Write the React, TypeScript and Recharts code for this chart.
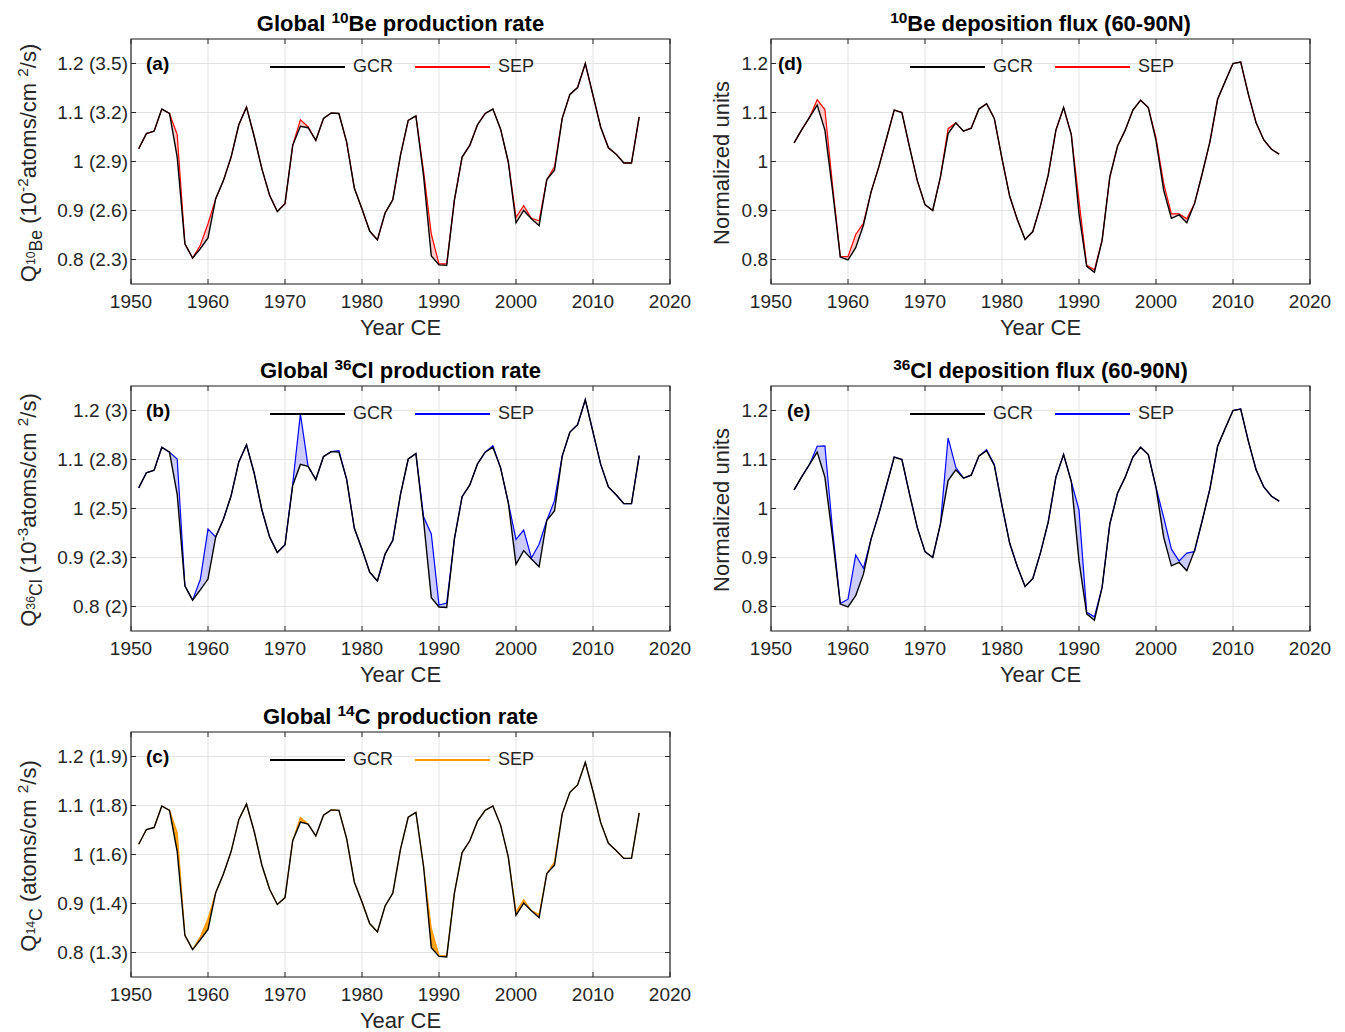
import React from "react";
import {
  ComposedChart,
  Line,
  Area,
  XAxis,
  YAxis,
  CartesianGrid,
  ReferenceArea,
} from "recharts";

const FONT = '"Liberation Sans", Arial, Helvetica, sans-serif';
const AXIS = "#262626";

// years
const productionYears = [
  1951, 1952, 1953, 1954, 1955, 1956, 1957, 1958, 1959, 1960, 1961, 1962, 1963,
  1964, 1965, 1966, 1967, 1968, 1969, 1970, 1971, 1972, 1973, 1974, 1975, 1976,
  1977, 1978, 1979, 1980, 1981, 1982, 1983, 1984, 1985, 1986, 1987, 1988, 1989,
  1990, 1991, 1992, 1993, 1994, 1995, 1996, 1997, 1998, 1999, 2000, 2001, 2002,
  2003, 2004, 2005, 2006, 2007, 2008, 2009, 2010, 2011, 2012, 2013, 2014, 2015,
  2016,
];
const depositionYears = [
  1953, 1954, 1955, 1956, 1957, 1958, 1959, 1960, 1961, 1962, 1963, 1964, 1965,
  1966, 1967, 1968, 1969, 1970, 1971, 1972, 1973, 1974, 1975, 1976, 1977, 1978,
  1979, 1980, 1981, 1982, 1983, 1984, 1985, 1986, 1987, 1988, 1989, 1990, 1991,
  1992, 1993, 1994, 1995, 1996, 1997, 1998, 1999, 2000, 2001, 2002, 2003, 2004,
  2005, 2006, 2007, 2008, 2009, 2010, 2011, 2012, 2013, 2014, 2015, 2016,
];

const yearTicks = [1950, 1960, 1970, 1980, 1990, 2000, 2010, 2020];
const valueTicks = [0.8, 0.9, 1, 1.1, 1.2];
const be10TickLabels = ["0.8 (2.3)", "0.9 (2.6)", "1 (2.9)", "1.1 (3.2)", "1.2 (3.5)"];
const cl36TickLabels = ["0.8 (2)", "0.9 (2.3)", "1 (2.5)", "1.1 (2.8)", "1.2 (3)"];
const c14TickLabels = ["0.8 (1.3)", "0.9 (1.4)", "1 (1.6)", "1.1 (1.8)", "1.2 (1.9)"];
const normTickLabels = ["0.8", "0.9", "1", "1.1", "1.2"];

// (a) global 10Be production
const be10Gcr = [
  1.026, 1.057, 1.062, 1.107, 1.098, 1.009, 0.832, 0.803, 0.822, 0.844, 0.924,
  0.961, 1.009, 1.075, 1.111, 1.051, 0.985, 0.931, 0.898, 0.914, 1.033, 1.072,
  1.069, 1.043, 1.088, 1.099, 1.098, 1.04, 0.946, 0.903, 0.858, 0.84, 0.895,
  0.922, 1.013, 1.084, 1.093, 0.97, 0.807, 0.789, 0.788, 0.921, 1.009, 1.033,
  1.075, 1.098, 1.107, 1.066, 0.999, 0.875, 0.9, 0.883, 0.869, 0.963, 0.982,
  1.088, 1.137, 1.151, 1.2, 1.135, 1.07, 1.028, 1.015, 0.997, 0.997, 1.091,
];
const be10Sep = [
  1.026, 1.057, 1.062, 1.107, 1.098, 1.055, 0.832, 0.803, 0.829, 0.873, 0.924,
  0.961, 1.009, 1.075, 1.111, 1.051, 0.985, 0.931, 0.898, 0.914, 1.033, 1.085,
  1.071, 1.043, 1.088, 1.099, 1.098, 1.04, 0.946, 0.903, 0.858, 0.84, 0.895,
  0.922, 1.013, 1.084, 1.093, 0.98, 0.852, 0.791, 0.791, 0.921, 1.009, 1.033,
  1.075, 1.098, 1.107, 1.066, 0.999, 0.886, 0.91, 0.884, 0.879, 0.963, 0.989,
  1.088, 1.137, 1.151, 1.2, 1.135, 1.07, 1.028, 1.015, 0.997, 0.997, 1.091,
];

// (b) global 36Cl production
const cl36Gcr = [
  1.042, 1.073, 1.078, 1.125, 1.115, 1.029, 0.842, 0.813, 0.834, 0.856, 0.942,
  0.978, 1.026, 1.095, 1.13, 1.072, 0.997, 0.942, 0.91, 0.926, 1.047, 1.09,
  1.086, 1.059, 1.106, 1.116, 1.115, 1.06, 0.96, 0.917, 0.87, 0.852, 0.907,
  0.935, 1.029, 1.101, 1.112, 0.975, 0.818, 0.799, 0.798, 0.938, 1.024, 1.048,
  1.091, 1.115, 1.125, 1.083, 1.012, 0.886, 0.914, 0.897, 0.881, 0.976, 0.995,
  1.107, 1.156, 1.171, 1.222, 1.156, 1.09, 1.044, 1.028, 1.01, 1.01, 1.108,
];
const cl36Sep = [
  1.042, 1.073, 1.078, 1.125, 1.115, 1.101, 0.842, 0.813, 0.855, 0.958, 0.942,
  0.978, 1.026, 1.095, 1.13, 1.072, 0.997, 0.942, 0.91, 0.926, 1.05, 1.193,
  1.086, 1.059, 1.106, 1.116, 1.118, 1.06, 0.96, 0.917, 0.87, 0.852, 0.907,
  0.935, 1.029, 1.101, 1.112, 0.983, 0.948, 0.803, 0.807, 0.938, 1.024, 1.048,
  1.091, 1.115, 1.128, 1.083, 1.012, 0.937, 0.956, 0.899, 0.927, 0.976, 1.016,
  1.107, 1.156, 1.171, 1.222, 1.156, 1.09, 1.044, 1.028, 1.01, 1.01, 1.108,
];

// (c) global 14C production
const c14Gcr = [
  1.021, 1.051, 1.055, 1.099, 1.09, 1.006, 0.835, 0.806, 0.826, 0.847, 0.922,
  0.96, 1.006, 1.071, 1.103, 1.047, 0.978, 0.929, 0.898, 0.912, 1.028, 1.066,
  1.062, 1.038, 1.08, 1.091, 1.09, 1.033, 0.944, 0.903, 0.859, 0.842, 0.895,
  0.921, 1.011, 1.076, 1.086, 0.975, 0.81, 0.792, 0.791, 0.921, 1.004, 1.028,
  1.068, 1.09, 1.099, 1.06, 0.995, 0.876, 0.901, 0.885, 0.871, 0.961, 0.978,
  1.083, 1.127, 1.142, 1.188, 1.129, 1.065, 1.023, 1.008, 0.992, 0.992, 1.085,
];
const c14Sep = [
  1.021, 1.051, 1.055, 1.099, 1.09, 1.045, 0.835, 0.806, 0.832, 0.869, 0.922,
  0.96, 1.006, 1.071, 1.103, 1.047, 0.978, 0.929, 0.898, 0.912, 1.028, 1.076,
  1.062, 1.038, 1.08, 1.091, 1.09, 1.033, 0.944, 0.903, 0.859, 0.842, 0.895,
  0.921, 1.011, 1.076, 1.086, 0.975, 0.849, 0.794, 0.793, 0.921, 1.004, 1.028,
  1.068, 1.09, 1.099, 1.06, 0.995, 0.883, 0.908, 0.885, 0.878, 0.961, 0.985,
  1.083, 1.127, 1.142, 1.188, 1.129, 1.065, 1.023, 1.008, 0.992, 0.992, 1.085,
];

// (d) 10Be deposition 60-90N
const be10DepGcr = [
  1.038, 1.065, 1.09, 1.115, 1.064, 0.94, 0.805, 0.799, 0.824, 0.87, 0.938,
  0.989, 1.047, 1.105, 1.1, 1.029, 0.961, 0.912, 0.9, 0.968, 1.057, 1.079,
  1.062, 1.068, 1.107, 1.118, 1.088, 1.006, 0.929, 0.881, 0.841, 0.857, 0.91,
  0.972, 1.064, 1.11, 1.055, 0.893, 0.786, 0.774, 0.839, 0.968, 1.031, 1.064,
  1.105, 1.125, 1.11, 1.043, 0.941, 0.884, 0.891, 0.875, 0.914, 0.975, 1.04,
  1.127, 1.164, 1.2, 1.203, 1.137, 1.079, 1.044, 1.025, 1.015,
];
const be10DepSep = [
  1.038, 1.065, 1.09, 1.126, 1.106, 0.95, 0.806, 0.806, 0.851, 0.874, 0.938,
  0.989, 1.047, 1.105, 1.1, 1.029, 0.961, 0.912, 0.9, 0.968, 1.067, 1.079,
  1.062, 1.068, 1.107, 1.118, 1.088, 1.006, 0.929, 0.881, 0.841, 0.857, 0.91,
  0.972, 1.064, 1.11, 1.055, 0.92, 0.788, 0.779, 0.839, 0.968, 1.031, 1.064,
  1.105, 1.125, 1.11, 1.048, 0.955, 0.893, 0.893, 0.883, 0.914, 0.975, 1.04,
  1.127, 1.164, 1.2, 1.203, 1.137, 1.079, 1.044, 1.025, 1.015,
];

// (e) 36Cl deposition 60-90N
const cl36DepGcr = [
  1.038, 1.065, 1.09, 1.115, 1.064, 0.94, 0.805, 0.799, 0.822, 0.866, 0.938,
  0.989, 1.047, 1.105, 1.1, 1.029, 0.961, 0.912, 0.9, 0.968, 1.057, 1.079,
  1.062, 1.068, 1.107, 1.118, 1.088, 1.006, 0.929, 0.881, 0.841, 0.857, 0.91,
  0.972, 1.064, 1.11, 1.055, 0.893, 0.785, 0.772, 0.839, 0.968, 1.031, 1.064,
  1.105, 1.125, 1.11, 1.043, 0.941, 0.883, 0.89, 0.873, 0.914, 0.975, 1.04,
  1.127, 1.164, 1.2, 1.203, 1.137, 1.079, 1.044, 1.025, 1.015,
];
const cl36DepSep = [
  1.038, 1.065, 1.09, 1.127, 1.128, 0.955, 0.806, 0.815, 0.905, 0.878, 0.938,
  0.989, 1.047, 1.105, 1.1, 1.029, 0.961, 0.912, 0.9, 0.968, 1.144, 1.084,
  1.062, 1.068, 1.107, 1.12, 1.09, 1.006, 0.929, 0.881, 0.841, 0.857, 0.91,
  0.972, 1.064, 1.11, 1.055, 0.997, 0.788, 0.779, 0.839, 0.968, 1.031, 1.064,
  1.105, 1.125, 1.11, 1.043, 0.982, 0.917, 0.893, 0.909, 0.912, 0.975, 1.04,
  1.127, 1.164, 1.2, 1.203, 1.137, 1.079, 1.044, 1.025, 1.015,
];

// plot box inside each chart
const CHART_W = 700;
const CHART_H = 345;
const PL = 131;
const PT = 39;
const PW = 539;
const PH = 245;

interface PanelProps {
  left: number;
  top: number;
  years: number[];
  gcr: number[];
  sep: number[];
  color: string;
  fillOpacity: number;
  tickLabels: string[];
  tag: string;
  tagOffset: number;
  title: React.ReactNode;
  ylabel: React.ReactNode;
  ylabelOffset: number;
}

const Panel: React.FC<PanelProps> = (p) => {
  const rows = p.years.map((year, i) => ({
    year,
    gcr: p.gcr[i],
    sep: p.sep[i],
    band: [p.gcr[i], p.sep[i]],
  }));

  const XTick = (props: any) => {
    const { x, payload } = props;
    return (
      <g>
        <line x1={x} x2={x} y1={PT + PH} y2={PT + PH - 5} stroke={AXIS} />
        <line x1={x} x2={x} y1={PT} y2={PT + 5} stroke={AXIS} />
        <text
          x={x}
          y={PT + PH + 17}
          textAnchor="middle"
          dominantBaseline="central"
          fontSize={19}
          fill={AXIS}
          fontFamily={FONT}
        >
          {payload.value}
        </text>
      </g>
    );
  };

  const YTick = (props: any) => {
    const { y, payload } = props;
    const idx = valueTicks.findIndex((v) => Math.abs(v - payload.value) < 1e-6);
    return (
      <g>
        <line x1={PL} x2={PL + 5} y1={y} y2={y} stroke={AXIS} />
        <line x1={PL + PW} x2={PL + PW - 5} y1={y} y2={y} stroke={AXIS} />
        <text
          x={PL - 3}
          y={y}
          textAnchor="end"
          dominantBaseline="central"
          fontSize={19}
          fill={AXIS}
          fontFamily={FONT}
        >
          {p.tickLabels[idx]}
        </text>
      </g>
    );
  };

  const cx = p.left + PL + PW / 2;
  return (
    <>
      <div style={{ position: "absolute", left: p.left, top: p.top }}>
        <ComposedChart
          width={CHART_W}
          height={CHART_H}
          data={rows}
          margin={{ top: PT, left: PL - 60, right: CHART_W - PL - PW, bottom: CHART_H - PT - PH - 30 }}
        >
          <CartesianGrid stroke="#e3e3e3" />
          <XAxis
            dataKey="year"
            type="number"
            domain={[1950, 2020]}
            ticks={yearTicks}
            interval={0}
            height={30}
            axisLine={false}
            tickLine={false}
            tick={XTick}
          />
          <YAxis
            type="number"
            domain={[0.75, 1.25]}
            ticks={valueTicks}
            interval={0}
            width={60}
            axisLine={false}
            tickLine={false}
            tick={YTick}
          />
          <Area
            type="linear"
            dataKey="band"
            stroke="none"
            fill={p.color}
            fillOpacity={p.fillOpacity}
            isAnimationActive={false}
          />
          <Line
            type="linear"
            dataKey="sep"
            stroke={p.color}
            strokeWidth={1.2}
            dot={false}
            isAnimationActive={false}
          />
          <Line
            type="linear"
            dataKey="gcr"
            stroke="#000"
            strokeWidth={1.4}
            dot={false}
            isAnimationActive={false}
          />
          <ReferenceArea
            x1={1950}
            x2={2020}
            y1={0.75}
            y2={1.25}
            fill="none"
            stroke={AXIS}
            strokeWidth={1.2}
          />
        </ComposedChart>
      </div>

      {/* title */}
      <div
        style={{
          position: "absolute",
          left: cx,
          top: p.top + PT - 16,
          transform: "translate(-50%, -50%)",
          whiteSpace: "nowrap",
          fontWeight: "bold",
          fontSize: 22,
          color: "#000",
        }}
      >
        {p.title}
      </div>

      {/* x label */}
      <div
        style={{
          position: "absolute",
          left: cx,
          top: p.top + PT + PH + 44,
          transform: "translate(-50%, -50%)",
          whiteSpace: "nowrap",
          fontSize: 22,
          color: AXIS,
        }}
      >
        Year CE
      </div>

      {/* y label */}
      <div
        style={{
          position: "absolute",
          left: p.left + PL + p.ylabelOffset,
          top: p.top + PT + PH / 2 + 1,
          transform: "translate(-50%, -50%) rotate(-90deg)",
          whiteSpace: "nowrap",
          fontSize: 22,
          color: AXIS,
        }}
      >
        {p.ylabel}
      </div>

      {/* panel tag */}
      <div
        style={{
          position: "absolute",
          left: p.left + PL + p.tagOffset,
          top: p.top + PT + 25,
          transform: "translateY(-50%)",
          fontWeight: "bold",
          fontSize: 19,
          color: "#000",
        }}
      >
        {p.tag}
      </div>

      {/* legend */}
      <div
        style={{
          position: "absolute",
          left: p.left + PL + 139,
          top: p.top + PT + 27,
          width: 75,
          height: 1.5,
          background: "#000",
        }}
      />
      <div
        style={{
          position: "absolute",
          left: p.left + PL + 222,
          top: p.top + PT + 27,
          transform: "translateY(-50%)",
          fontSize: 18,
          color: AXIS,
        }}
      >
        GCR
      </div>
      <div
        style={{
          position: "absolute",
          left: p.left + PL + 284,
          top: p.top + PT + 27,
          width: 75,
          height: 1.5,
          background: p.color,
        }}
      />
      <div
        style={{
          position: "absolute",
          left: p.left + PL + 367,
          top: p.top + PT + 27,
          transform: "translateY(-50%)",
          fontSize: 18,
          color: AXIS,
        }}
      >
        SEP
      </div>
    </>
  );
};

const small: React.CSSProperties = { fontSize: "0.7em" };

export default function App() {
  return (
    <div
      style={{
        position: "absolute",
        left: 0,
        top: 0,
        width: 1345,
        height: 1032,
        background: "#fff",
        fontFamily: FONT,
      }}
    >
      <Panel
        left={0}
        top={0}
        years={productionYears}
        gcr={be10Gcr}
        sep={be10Sep}
        color="#ff0000"
        fillOpacity={0.2}
        tickLabels={be10TickLabels}
        tag="(a)"
        tagOffset={15}
        title={
          <>
            Global <sup style={small}>10</sup>Be production rate
          </>
        }
        ylabel={
          <>
            Q<sub style={{ fontSize: "0.8em" }}><sup style={small}>10</sup>Be</sub>{" "}
            (10<sup style={small}>-2</sup>atoms/cm <sup style={small}>2</sup>/s)
          </>
        }
        ylabelOffset={-101}
      />
      <Panel
        left={640}
        top={0}
        years={depositionYears}
        gcr={be10DepGcr}
        sep={be10DepSep}
        color="#ff0000"
        fillOpacity={0.2}
        tickLabels={normTickLabels}
        tag="(d)"
        tagOffset={7}
        title={
          <>
            <sup style={small}>10</sup>Be deposition flux (60-90N)
          </>
        }
        ylabel={<>Normalized units</>}
        ylabelOffset={-49}
      />
      <Panel
        left={0}
        top={347}
        years={productionYears}
        gcr={cl36Gcr}
        sep={cl36Sep}
        color="#0000ff"
        fillOpacity={0.2}
        tickLabels={cl36TickLabels}
        tag="(b)"
        tagOffset={15}
        title={
          <>
            Global <sup style={small}>36</sup>Cl production rate
          </>
        }
        ylabel={
          <>
            Q<sub style={{ fontSize: "0.8em" }}><sup style={small}>36</sup>Cl</sub>{" "}
            (10<sup style={small}>-3</sup>atoms/cm <sup style={small}>2</sup>/s)
          </>
        }
        ylabelOffset={-101}
      />
      <Panel
        left={640}
        top={347}
        years={depositionYears}
        gcr={cl36DepGcr}
        sep={cl36DepSep}
        color="#0000ff"
        fillOpacity={0.2}
        tickLabels={normTickLabels}
        tag="(e)"
        tagOffset={16}
        title={
          <>
            <sup style={small}>36</sup>Cl deposition flux (60-90N)
          </>
        }
        ylabel={<>Normalized units</>}
        ylabelOffset={-49}
      />
      <Panel
        left={0}
        top={693}
        years={productionYears}
        gcr={c14Gcr}
        sep={c14Sep}
        color="#ff9900"
        fillOpacity={0.9}
        tickLabels={c14TickLabels}
        tag="(c)"
        tagOffset={15}
        title={
          <>
            Global <sup style={small}>14</sup>C production rate
          </>
        }
        ylabel={
          <>
            Q<sub style={{ fontSize: "0.8em" }}><sup style={small}>14</sup>C</sub>{" "}
            (atoms/cm <sup style={small}>2</sup>/s)
          </>
        }
        ylabelOffset={-101}
      />
    </div>
  );
}
